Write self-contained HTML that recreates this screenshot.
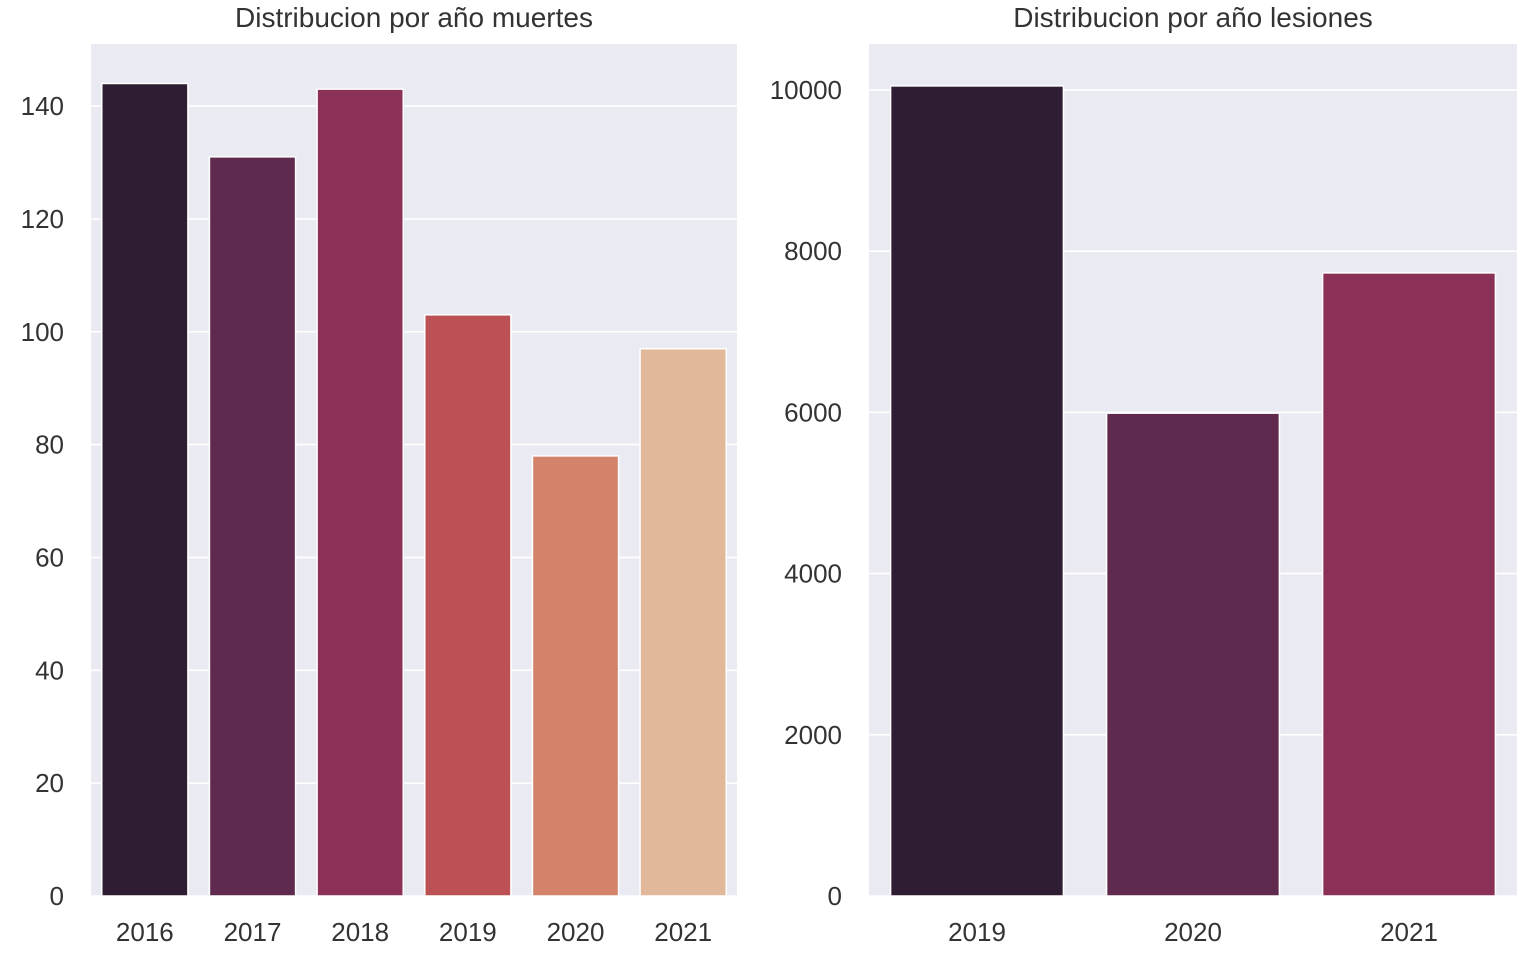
<!DOCTYPE html>
<html><head><meta charset="utf-8"><style>
body{margin:0;background:#fff;}
svg text{font-family:"Liberation Sans",sans-serif;fill:#333;}
</style></head><body>
<svg id="c" width="1522" height="948"></svg>
<script>
const catsA=["2016","2017","2018","2019","2020","2021"];
const valsA=[144,131,143,103,78,97];
const ticksA=[0,20,40,60,80,100,120,140];
const colorsA=["#2f1d33","#5f2a4e","#8b3157","#bb5154","#d3836a","#e2b89b"];
const catsB=["2019","2020","2021"];
const valsB=[10050,5990,7730];
const ticksB=[0,2000,4000,6000,8000,10000];
const colorsB=["#2f1d33","#5f2a4e","#8b3157"];
const NS="http://www.w3.org/2000/svg";
const svg=document.getElementById('c');
function mk(t,a,p){const e=document.createElementNS(NS,t);for(const k in a)e.setAttribute(k,a[k]);(p||svg).appendChild(e);return e;}
function panel(name,x0,x1,yTop,yBot,ymax,cats,vals,ticks,colors,title){
  const g=mk('g',{});
  
  
  const bg=mk('rect',{x:x0,y:yTop,width:x1-x0,height:yBot-yTop,fill:'#eaeaf2'},g);
  
  
  const ys=v=>yBot-(v/ymax)*(yBot-yTop);
  ticks.forEach(t=>{
    const y=ys(t);
    const l=mk('line',{x1:x0,x2:x1,y1:y,y2:y,stroke:'#fff','stroke-width':1.6},g);
    
    
    const tx=mk('text',{x:x0-27,y:y+9,'text-anchor':'end','font-size':26},g);
    tx.textContent=t;
    
    
  });
  const bw=(x1-x0)/cats.length;
  cats.forEach((c,i)=>{
    const bx=x0+bw*i+bw*0.1, y=ys(vals[i]);
    const r=mk('rect',{x:bx,y:y,width:bw*0.8,height:yBot-y,fill:colors[i],stroke:'#fff','stroke-width':1.5},g);
    
    
    const tx=mk('text',{x:x0+bw*(i+0.5),y:yBot+45,'text-anchor':'middle','font-size':26},g);
    tx.textContent=c;
    
    
  });
  const tt=mk('text',{x:(x0+x1)/2,y:27,'text-anchor':'middle','font-size':28},g);
  tt.textContent=title;
  
  
}
panel('muertes-panel',91,737,44,896,151,catsA,valsA,ticksA,colorsA,'Distribucion por año muertes');
panel('lesiones-panel',869,1517,44,896,10570,catsB,valsB,ticksB,colorsB,'Distribucion por año lesiones');
</script>
</body></html>
